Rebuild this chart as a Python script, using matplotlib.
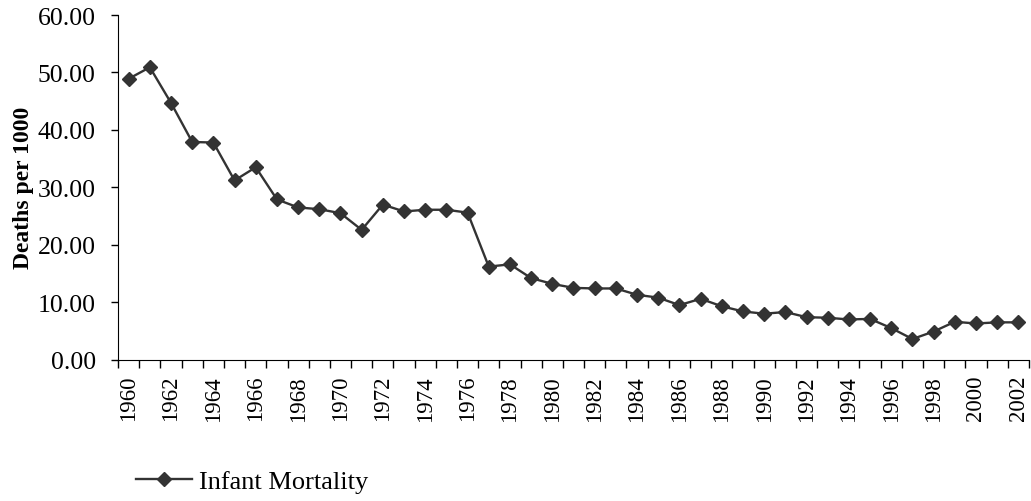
import matplotlib
matplotlib.use("Agg")
import matplotlib.pyplot as plt
from matplotlib.ticker import FixedLocator, FormatStrFormatter

plt.rcParams['font.family'] = ['Liberation Serif', 'DejaVu Serif']

years = list(range(1960, 2003))
infant_mortality = [
    48.9, 50.9, 44.7, 37.9, 37.8, 31.2, 33.5, 27.9, 26.5, 26.2,
    25.5, 22.6, 27.0, 25.8, 26.1, 26.1, 25.6, 16.2, 16.6, 14.2,
    13.2, 12.5, 12.4, 12.4, 11.3, 10.8, 9.5, 10.6, 9.3, 8.4,
    8.0, 8.3, 7.4, 7.3, 7.0, 7.1, 5.5, 3.6, 4.9, 6.6,
    6.3, 6.5, 6.5,
]
series_name = "Infant Mortality"
y_label = "Deaths per 1000"

fig = plt.figure(figsize=(10.31, 5.02), dpi=100)
ax = fig.add_axes([0.1145, 0.2815, 0.8835, 0.6866])

x = list(range(len(years)))
ax.plot(x, infant_mortality, color='#333333', lw=1.7, marker='D',
        markersize=7, label=series_name)

ax.set_xlim(-0.5, len(years) - 0.5)
ax.set_ylim(0, 60)
ax.set_yticks([0, 10, 20, 30, 40, 50, 60])
ax.yaxis.set_major_formatter(FormatStrFormatter('%.2f'))

# labels on every other category, tick marks between categories
ax.set_xticks(x[::2])
ax.set_xticklabels([str(y) for y in years[::2]], rotation=90)
ax.xaxis.set_minor_locator(FixedLocator([i - 0.5 for i in range(len(years) + 1)]))
ax.tick_params(axis='x', which='major', length=0, pad=11, labelsize=16.5)
ax.tick_params(axis='x', which='minor', length=6, width=1, direction='out')
ax.tick_params(axis='y', length=5, width=1, pad=11, labelsize=18.5)

for s in ['top', 'right']:
    ax.spines[s].set_visible(False)

ax.set_ylabel(y_label, fontsize=17, fontweight='bold', labelpad=2.5)

fig.legend(loc='lower left', bbox_to_anchor=(0.109, -0.031), frameon=False,
           fontsize=19, handlelength=2.1, handletextpad=0.3)

fig.savefig('out.png', dpi=100)
